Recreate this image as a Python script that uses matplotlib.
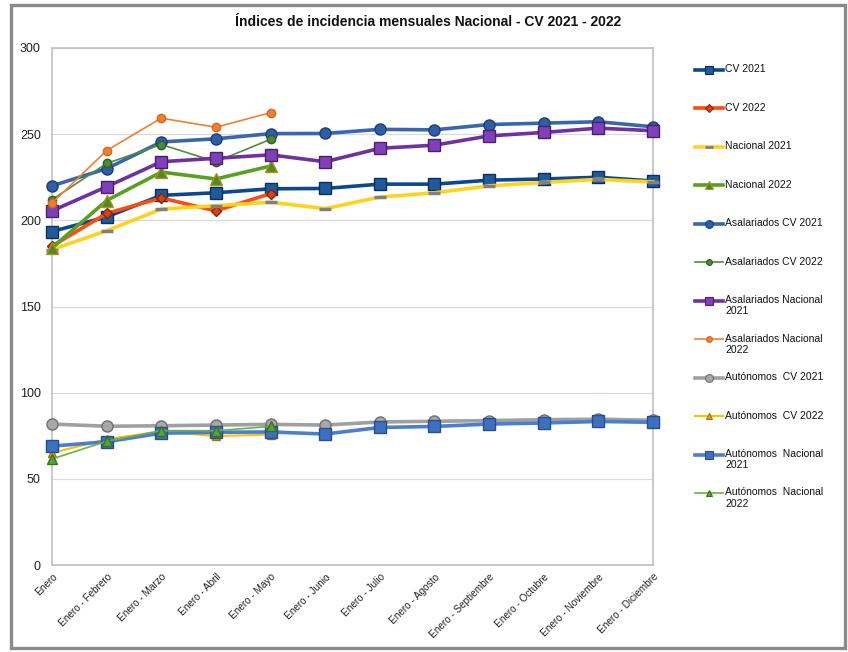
import matplotlib
matplotlib.use('Agg')
import matplotlib.pyplot as plt
from matplotlib.lines import Line2D
from matplotlib.patches import Rectangle

plt.rcParams['font.family'] = ['Liberation Sans', 'DejaVu Sans']

## categories (cumulative months)
meses = ['Enero', 'Enero - Febrero', 'Enero - Marzo', 'Enero - Abril', 'Enero - Mayo',
         'Enero - Junio', 'Enero - Julio', 'Enero - Agosto', 'Enero - Septiembre',
         'Enero - Octubre', 'Enero - Noviembre', 'Enero - Diciembre']

## series values
cv_2021 = [193.5, 202, 214.5, 216, 218.3, 218.5, 221, 221, 223.3, 224, 225, 222.8]
cv_2022 = [185, 204, 213, 205.5, 215.5]
nac_2021 = [183, 194, 206.5, 208.5, 210.5, 206.8, 213.5, 216, 220, 222, 223.8, 222.3]
nac_2022 = [184, 211.5, 228, 224, 231.5]
asal_cv_2021 = [220, 230, 245.5, 247.3, 250.3, 250.4, 252.8, 252.5, 255.6, 256.4, 257.2, 254.3]
asal_cv_2022 = [212, 233, 244, 234, 247]
asal_nac_2021 = [205.5, 219.5, 234, 236, 238, 234, 241.8, 243.6, 249, 251, 253.5, 252]
asal_nac_2022 = [210, 240.5, 259.3, 254, 262.5]
aut_cv_2021 = [81.8, 80.5, 80.8, 81.2, 81.6, 81.2, 83, 83.4, 83.8, 84.3, 84.6, 84]
aut_cv_2022 = [65, 73, 77.5, 74.8, 75.7]
aut_nac_2021 = [69, 71.5, 76.5, 77, 77.2, 76, 79.8, 80.4, 81.8, 82.4, 83.3, 82.8]
aut_nac_2022 = [61.5, 71.8, 78, 77.9, 80.4]

## label, values, line colour, line width, marker, marker face, marker edge, marker size
series = [
    ('CV 2021', cv_2021, '#0a4a8c', 2.6, 's', '#1f5a9a', '#0b2f5a', 8),
    ('CV 2022', cv_2022, '#ff4a10', 2.6, 'D', '#e04010', '#7a2a10', 5.5),
    ('Nacional 2021', nac_2021, '#ffd21e', 2.6, '_', '#909090', '#808080', 8),
    ('Nacional 2022', nac_2022, '#5aa020', 2.6, '^', '#4e8a20', '#b09020', 9),
    ('Asalariados CV 2021', asal_cv_2021, '#3a66b0', 2.6, 'o', '#2f5ea8', '#1c3e78', 8),
    ('Asalariados CV 2022', asal_cv_2022, '#4e8e3a', 1.2, 'o', '#4a8a34', '#2f6020', 6),
    ('Asalariados Nacional\n2021', asal_nac_2021, '#7030a0', 2.6, 's', '#8040b8', '#4a1f70', 9),
    ('Asalariados Nacional\n2022', asal_nac_2022, '#f08030', 1.2, 'o', '#f08030', '#d06a20', 6),
    ('Autónomos  CV 2021', aut_cv_2021, '#a0a0a0', 2.6, 'o', '#a8a8a8', '#707070', 8),
    ('Autónomos  CV 2022', aut_cv_2022, '#ffc000', 1.5, '^', '#e0a800', '#a07800', 6),
    ('Autónomos  Nacional\n2021', aut_nac_2021, '#4a7ed0', 2.6, 's', '#3f70c0', '#24508e', 9),
    ('Autónomos  Nacional\n2022', aut_nac_2022, '#6ab04a', 1.2, '^', '#5aa03a', '#3a7020', 7),
]

W, H = 848, 652
fig = plt.figure(figsize=(W / 100, H / 100), dpi=100)

## outer frame like the spreadsheet chart area
fig.patches.append(Rectangle((11 / W, 1 - 648 / H), (845 - 11) / W, (648 - 5) / H,
                             transform=fig.transFigure, fill=False,
                             edgecolor='#8a8a8a', linewidth=2.4))

ax = fig.add_axes([52 / W, 1 - 565 / H, (653 - 52) / W, (565 - 48) / H])
x = list(range(len(meses)))

for lab, vals, col, lw, mk, mfc, mec, ms in series:
    ax.plot(x[:len(vals)], vals, color=col, linewidth=lw, marker=mk, markerfacecolor=mfc,
            markeredgecolor=mec, markersize=ms, markeredgewidth=1.0 if mk != '_' else 2.5,
            solid_joinstyle='round', zorder=3, clip_on=False)

ax.set_xlim(0, len(meses) - 1)
ax.set_ylim(0, 300)
ax.set_yticks(range(0, 301, 50))
ax.set_xticks(x)
ax.set_xticklabels(meses, rotation=45, ha='right', rotation_mode='anchor', fontsize=7.2, color='#222222')
ax.tick_params(axis='y', length=0, labelsize=9, pad=8, colors='#222222')
ax.tick_params(axis='x', length=0, pad=5)
ax.grid(axis='y', color='#d9d9d9', linewidth=0.9)
ax.set_axisbelow(True)
for s in ax.spines.values():
    s.set_color('#c0c0c0')
    s.set_linewidth(1.2)

fig.text(428 / W, 1 - 22 / H, 'Índices de incidencia mensuales Nacional - CV 2021 - 2022',
         ha='center', va='center', fontsize=10, fontweight='bold', color='#111111')

## legend drawn by hand so entries keep equal spacing
for i, (lab, vals, col, lw, mk, mfc, mec, ms) in enumerate(series):
    yy = 1 - (70 + i * 38.45) / H
    fig.add_artist(Line2D([695 / W, 723 / W], [yy, yy], transform=fig.transFigure,
                          color=col, linewidth=lw))
    fig.add_artist(Line2D([709 / W], [yy], transform=fig.transFigure, color=col,
                          marker=mk, markerfacecolor=mfc, markeredgecolor=mec,
                          markersize=ms * 0.7, markeredgewidth=0.8 if mk != '_' else 2))
    fig.text(725 / W, yy + 5.5 / H, lab, ha='left', va='top', fontsize=7.5,
             color='#111111', linespacing=1.15)

fig.savefig('out.png', dpi=100)
